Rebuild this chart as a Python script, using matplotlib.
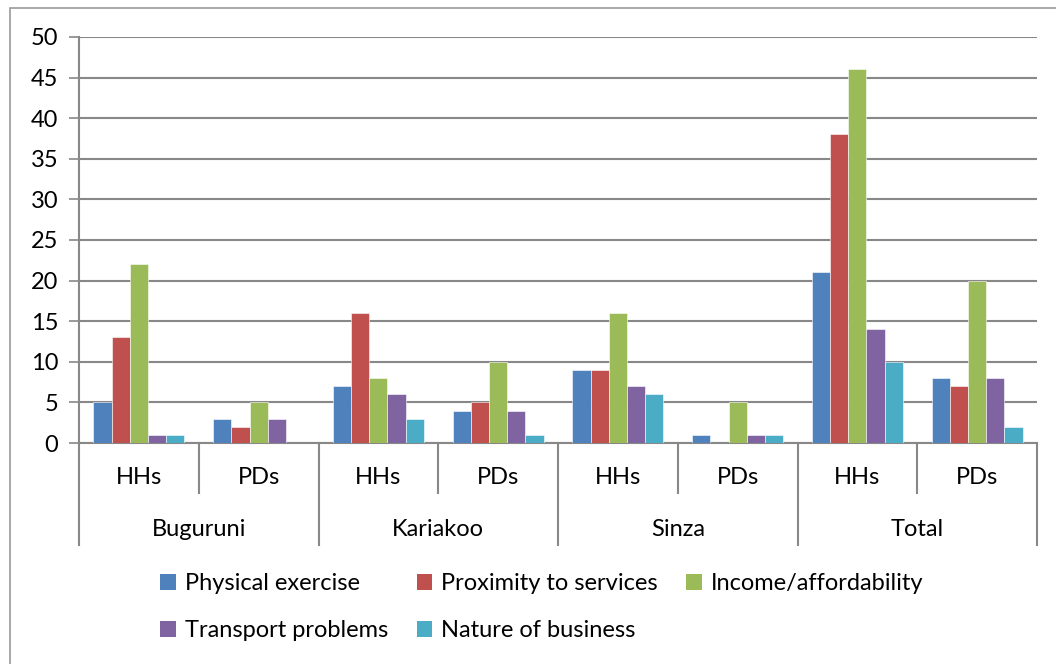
import numpy as np
import matplotlib
matplotlib.use("Agg")
import matplotlib.pyplot as plt
from matplotlib.patches import Patch, Rectangle
import matplotlib.transforms as mtransforms

plt.rcParams['font.family'] = ['Lato', 'DejaVu Sans']

# Category levels
sites = ['Buguruni', 'Kariakoo', 'Sinza', 'Total']
groups = ['HHs', 'PDs']

# Reasons (series), one value per site/group pair in order
physical_exercise = [5, 3, 7, 4, 9, 1, 21, 8]
proximity_services = [13, 2, 16, 5, 9, 0, 38, 7]
income_affordability = [22, 5, 8, 10, 16, 5, 46, 20]
transport_problems = [1, 3, 6, 4, 7, 1, 14, 8]
nature_of_business = [1, 0, 3, 1, 6, 1, 10, 2]

series_names = ['Physical exercise', 'Proximity to services', 'Income/affordability',
                'Transport problems', 'Nature of business']
series = [physical_exercise, proximity_services, income_affordability,
          transport_problems, nature_of_business]
colors = ['#4F81BD', '#C0504D', '#9BBB59', '#8064A2', '#4BACC6']

grid_col = '#888888'
fs = 17

fig = plt.figure(figsize=(10.56, 6.64), dpi=100)
ax = fig.add_axes([79 / 1056, 1 - 443 / 664, (1037 - 79) / 1056, (443 - 37) / 664])

# outer chart border
fig.patches.append(Rectangle((10 / 1056, -0.05), 1.1, 1 - 8 / 664 + 0.05,
                             transform=fig.transFigure, fill=False,
                             edgecolor='#9a9a9a', linewidth=1.2))

n_cat = len(sites) * len(groups)
x = np.arange(n_cat) + 0.5
width = 0.152
for i, (vals, name, c) in enumerate(zip(series, series_names, colors)):
    ax.bar(x + (i - 2) * width, vals, width, color=c, edgecolor='white',
           linewidth=0.4, label=name, zorder=3)

ax.set_xlim(0, n_cat)
ax.set_ylim(0, 50)
ax.set_yticks(np.arange(0, 51, 5))
ax.yaxis.grid(True, color=grid_col, linewidth=1.5, zorder=0)
ax.tick_params(axis='y', length=7, width=1.2, color=grid_col, labelsize=fs, pad=8)
ax.set_xticks([])
for s in ['top', 'right']:
    ax.spines[s].set_visible(False)
ax.spines['left'].set_color(grid_col)
ax.spines['left'].set_linewidth(1.5)
ax.spines['bottom'].set_color(grid_col)
ax.spines['bottom'].set_linewidth(1.5)

# multi-level category axis
trans = mtransforms.blended_transform_factory(ax.transData, ax.transAxes)
ax_h = 406.0
for k in range(n_cat + 1):
    depth = 102 if k % 2 == 0 else 50
    ax.plot([k, k], [0, -depth / ax_h], transform=trans, color=grid_col,
            linewidth=1.5, clip_on=False)
for k in range(n_cat):
    ax.text(k + 0.5, -34 / ax_h, groups[k % 2], transform=trans, ha='center',
            va='center', fontsize=fs)
for j, s in enumerate(sites):
    ax.text(2 * j + 1, -86 / ax_h, s, transform=trans, ha='center',
            va='center', fontsize=fs)

# legend laid out row by row (matplotlib fills columns first)
handles = [Patch(facecolor=c, edgecolor='none') for c in colors]
order = [0, 3, 1, 4, 2]
fig.legend([handles[i] for i in order], [series_names[i] for i in order],
           loc='center', ncol=3,
           bbox_to_anchor=(542 / 1056, 1 - 607 / 664), frameon=False,
           fontsize=fs, handlelength=0.65, handleheight=0.65, handletextpad=0.4,
           columnspacing=1.2, labelspacing=1.1)

fig.savefig('out.png', dpi=100)
